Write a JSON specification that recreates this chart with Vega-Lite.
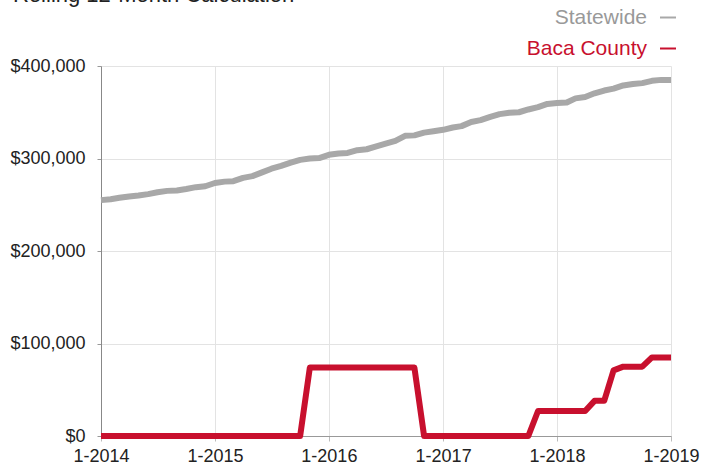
{
  "$schema": "https://vega.github.io/schema/vega-lite/v6.json",
  "autosize": "none",
  "width": 570,
  "height": 370,
  "padding": {"left": 101, "top": 66, "right": 33, "bottom": 32},
  "background": "white",
  "title": {"text": "Rolling 12-Month Calculation", "anchor": "start", "frame": "group", "fontSize": 22, "font": "Liberation Sans", "fontWeight": "normal", "color": "#222222", "baseline": "alphabetic", "offset": 0, "dx": -88, "dy": 17},
  "config": {
    "view": {"stroke": null},
    "font": "Liberation Sans"
  },
  "data": {"values": [
    {"date":"2014-01-01","series":"Statewide","value":255000},
    {"date":"2014-02-01","series":"Statewide","value":256000},
    {"date":"2014-03-01","series":"Statewide","value":257500},
    {"date":"2014-04-01","series":"Statewide","value":259000},
    {"date":"2014-05-01","series":"Statewide","value":260000},
    {"date":"2014-06-01","series":"Statewide","value":261500},
    {"date":"2014-07-01","series":"Statewide","value":263500},
    {"date":"2014-08-01","series":"Statewide","value":265000},
    {"date":"2014-09-01","series":"Statewide","value":265500},
    {"date":"2014-10-01","series":"Statewide","value":267000},
    {"date":"2014-11-01","series":"Statewide","value":269000},
    {"date":"2014-12-01","series":"Statewide","value":270000},
    {"date":"2015-01-01","series":"Statewide","value":273500},
    {"date":"2015-02-01","series":"Statewide","value":275000},
    {"date":"2015-03-01","series":"Statewide","value":275500},
    {"date":"2015-04-01","series":"Statewide","value":279000},
    {"date":"2015-05-01","series":"Statewide","value":281000},
    {"date":"2015-06-01","series":"Statewide","value":285000},
    {"date":"2015-07-01","series":"Statewide","value":289000},
    {"date":"2015-08-01","series":"Statewide","value":292000},
    {"date":"2015-09-01","series":"Statewide","value":295500},
    {"date":"2015-10-01","series":"Statewide","value":298500},
    {"date":"2015-11-01","series":"Statewide","value":300000},
    {"date":"2015-12-01","series":"Statewide","value":300500},
    {"date":"2016-01-01","series":"Statewide","value":304000},
    {"date":"2016-02-01","series":"Statewide","value":305500},
    {"date":"2016-03-01","series":"Statewide","value":306000},
    {"date":"2016-04-01","series":"Statewide","value":309000},
    {"date":"2016-05-01","series":"Statewide","value":310000},
    {"date":"2016-06-01","series":"Statewide","value":313000},
    {"date":"2016-07-01","series":"Statewide","value":316000},
    {"date":"2016-08-01","series":"Statewide","value":319000},
    {"date":"2016-09-01","series":"Statewide","value":324500},
    {"date":"2016-10-01","series":"Statewide","value":325000},
    {"date":"2016-11-01","series":"Statewide","value":328000},
    {"date":"2016-12-01","series":"Statewide","value":329500},
    {"date":"2017-01-01","series":"Statewide","value":331000},
    {"date":"2017-02-01","series":"Statewide","value":333500},
    {"date":"2017-03-01","series":"Statewide","value":335000},
    {"date":"2017-04-01","series":"Statewide","value":339500},
    {"date":"2017-05-01","series":"Statewide","value":341500},
    {"date":"2017-06-01","series":"Statewide","value":345000},
    {"date":"2017-07-01","series":"Statewide","value":348000},
    {"date":"2017-08-01","series":"Statewide","value":349500},
    {"date":"2017-09-01","series":"Statewide","value":350000},
    {"date":"2017-10-01","series":"Statewide","value":353000},
    {"date":"2017-11-01","series":"Statewide","value":355500},
    {"date":"2017-12-01","series":"Statewide","value":359000},
    {"date":"2018-01-01","series":"Statewide","value":360000},
    {"date":"2018-02-01","series":"Statewide","value":360500},
    {"date":"2018-03-01","series":"Statewide","value":365000},
    {"date":"2018-04-01","series":"Statewide","value":366500},
    {"date":"2018-05-01","series":"Statewide","value":370500},
    {"date":"2018-06-01","series":"Statewide","value":373500},
    {"date":"2018-07-01","series":"Statewide","value":375500},
    {"date":"2018-08-01","series":"Statewide","value":379000},
    {"date":"2018-09-01","series":"Statewide","value":380500},
    {"date":"2018-10-01","series":"Statewide","value":381500},
    {"date":"2018-11-01","series":"Statewide","value":384000},
    {"date":"2018-12-01","series":"Statewide","value":385000},
    {"date":"2019-01-01","series":"Statewide","value":385000},
    {"date":"2014-01-01","series":"Baca County","value":0},
    {"date":"2014-02-01","series":"Baca County","value":0},
    {"date":"2014-03-01","series":"Baca County","value":0},
    {"date":"2014-04-01","series":"Baca County","value":0},
    {"date":"2014-05-01","series":"Baca County","value":0},
    {"date":"2014-06-01","series":"Baca County","value":0},
    {"date":"2014-07-01","series":"Baca County","value":0},
    {"date":"2014-08-01","series":"Baca County","value":0},
    {"date":"2014-09-01","series":"Baca County","value":0},
    {"date":"2014-10-01","series":"Baca County","value":0},
    {"date":"2014-11-01","series":"Baca County","value":0},
    {"date":"2014-12-01","series":"Baca County","value":0},
    {"date":"2015-01-01","series":"Baca County","value":0},
    {"date":"2015-02-01","series":"Baca County","value":0},
    {"date":"2015-03-01","series":"Baca County","value":0},
    {"date":"2015-04-01","series":"Baca County","value":0},
    {"date":"2015-05-01","series":"Baca County","value":0},
    {"date":"2015-06-01","series":"Baca County","value":0},
    {"date":"2015-07-01","series":"Baca County","value":0},
    {"date":"2015-08-01","series":"Baca County","value":0},
    {"date":"2015-09-01","series":"Baca County","value":0},
    {"date":"2015-10-01","series":"Baca County","value":0},
    {"date":"2015-11-01","series":"Baca County","value":74000},
    {"date":"2015-12-01","series":"Baca County","value":74000},
    {"date":"2016-01-01","series":"Baca County","value":74000},
    {"date":"2016-02-01","series":"Baca County","value":74000},
    {"date":"2016-03-01","series":"Baca County","value":74000},
    {"date":"2016-04-01","series":"Baca County","value":74000},
    {"date":"2016-05-01","series":"Baca County","value":74000},
    {"date":"2016-06-01","series":"Baca County","value":74000},
    {"date":"2016-07-01","series":"Baca County","value":74000},
    {"date":"2016-08-01","series":"Baca County","value":74000},
    {"date":"2016-09-01","series":"Baca County","value":74000},
    {"date":"2016-10-01","series":"Baca County","value":74000},
    {"date":"2016-11-01","series":"Baca County","value":0},
    {"date":"2016-12-01","series":"Baca County","value":0},
    {"date":"2017-01-01","series":"Baca County","value":0},
    {"date":"2017-02-01","series":"Baca County","value":0},
    {"date":"2017-03-01","series":"Baca County","value":0},
    {"date":"2017-04-01","series":"Baca County","value":0},
    {"date":"2017-05-01","series":"Baca County","value":0},
    {"date":"2017-06-01","series":"Baca County","value":0},
    {"date":"2017-07-01","series":"Baca County","value":0},
    {"date":"2017-08-01","series":"Baca County","value":0},
    {"date":"2017-09-01","series":"Baca County","value":0},
    {"date":"2017-10-01","series":"Baca County","value":0},
    {"date":"2017-11-01","series":"Baca County","value":27000},
    {"date":"2017-12-01","series":"Baca County","value":27000},
    {"date":"2018-01-01","series":"Baca County","value":27000},
    {"date":"2018-02-01","series":"Baca County","value":27000},
    {"date":"2018-03-01","series":"Baca County","value":27000},
    {"date":"2018-04-01","series":"Baca County","value":27000},
    {"date":"2018-05-01","series":"Baca County","value":38000},
    {"date":"2018-06-01","series":"Baca County","value":38000},
    {"date":"2018-07-01","series":"Baca County","value":71000},
    {"date":"2018-08-01","series":"Baca County","value":75000},
    {"date":"2018-09-01","series":"Baca County","value":75000},
    {"date":"2018-10-01","series":"Baca County","value":75000},
    {"date":"2018-11-01","series":"Baca County","value":85000},
    {"date":"2018-12-01","series":"Baca County","value":85000},
    {"date":"2019-01-01","series":"Baca County","value":85000}
  ]},
  "mark": {"type": "line", "strokeWidth": 6, "strokeJoin": "round", "strokeCap": "butt", "clip": false},
  "encoding": {
    "x": {
      "field": "date", "type": "temporal",
      "scale": {"type": "utc", "domain": [{"year": 2014, "month": 1, "date": 1, "utc": true}, {"year": 2019, "month": 1, "date": 1, "utc": true}]},
      "axis": {
        "title": null, "format": "%-m-%Y", "tickCount": {"interval": "year", "step": 1},
        "labelFontSize": 18, "labelColor": "#222222", "labelPadding": 6,
        "tickSize": 5, "tickColor": "#bbbbbb", "domainColor": "#999999",
        "gridColor": "#e3e3e3", "grid": true, "labelFlush": false, "labelOverlap": false
      }
    },
    "y": {
      "field": "value", "type": "quantitative",
      "scale": {"domain": [0, 400000], "nice": false},
      "axis": {
        "title": null, "format": "$,.0f", "values": [0, 100000, 200000, 300000, 400000],
        "labelFontSize": 18, "labelColor": "#222222", "labelPadding": 12,
        "tickSize": 4, "tickColor": "#999999", "domainColor": "#888888",
        "gridColor": "#e3e3e3", "grid": true
      }
    },
    "color": {
      "field": "series", "type": "nominal",
      "scale": {"domain": ["Statewide", "Baca County"], "range": ["#a8a8a8", "#c8102e"]},
      "legend": {
        "title": null, "orient": "none", "legendX": 525, "legendY": -59,
        "labelFontSize": 21, "labelAlign": "right", "labelOffset": 0,
        "symbolType": "stroke", "symbolSize": 256, "symbolStrokeWidth": 2,
        "rowPadding": 9, "labelBaseline": "middle",
        "encode": {
          "labels": {"update": {"fill": {"signal": "datum.value === 'Statewide' ? '#999999' : '#c8102e'"}}},
          "symbols": {"update": {"x": {"value": 42}, "stroke": {"signal": "datum.value === 'Statewide' ? '#999999' : '#c8102e'"}}}
        }
      }
    }
  }
}
